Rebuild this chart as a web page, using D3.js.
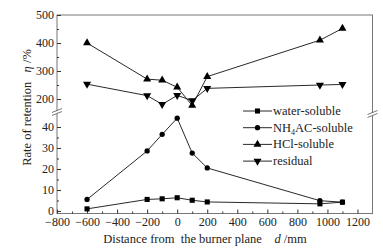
<!DOCTYPE html>
<html>
<head>
<meta charset="utf-8">
<script src="https://cdn.jsdelivr.net/npm/d3@7"></script>
<style>
  body { margin: 0; background: #fff; }
  text { white-space: pre; }
</style>
</head>
<body>
<div id="chart"></div>
<script>
// distance from the burner plane, mm
var distances = [-600, -200, -100, 0, 100, 200, 950, 1100];
var waterSoluble = [1, 5.5, 5.8, 6.3, 5.1, 4.3, 3.4, 4.2];
var nh4acSoluble = [5.5, 28.6, 36.5, 44.2, 27.6, 20.5, 4.9, 4.2];
var hclSoluble = [400, 271, 267, 242, 177, 280, 410, 452];
var residual = [253, 212, 181, 213, 194, 238, 250, 252];

var seriesNames = ['water-soluble', 'NH4AC-soluble', 'HCl-soluble', 'residual'];
var xTicks = [-800, -600, -400, -200, 0, 200, 400, 600, 800, 1000, 1200];
var yTicks = [0, 10, 20, 30, 40, 200, 300, 400, 500];
var yMinorTicks = [5, 15, 25, 35, 250, 350, 450];

var FONT = '"Liberation Serif", "Times New Roman", Times, "DejaVu Serif", serif';
var W = 383, H = 249;
var margin = { left: 57, right: 10.5, top: 15, bottom: 35.5 };

var svg = d3.select('#chart')
    .append('svg')
    .attr('width', W)
    .attr('height', H)
    .style('font-family', FONT);

var xScale = d3.scaleLinear()
    .domain([-800, 1300])
    .range([margin.left, W - margin.right]);

// broken y axis: lower part 0-46, upper part 170-500
var yScale = d3.scaleLinear()
    .domain([-1.2, 46, 170, 500])
    .range([H - margin.bottom, 114.4, 107.4, margin.top]);

var plotBottom = H - margin.bottom;
var fmt = function (d) { return d < 0 ? '\u2212' + Math.abs(d) : '' + d; };

// frame
svg.append('rect')
    .attr('x', margin.left)
    .attr('y', margin.top)
    .attr('width', W - margin.right - margin.left)
    .attr('height', plotBottom - margin.top)
    .style('fill', 'none')
    .style('stroke', '#777')
    .style('stroke-width', 1);

// x axis
svg.append('g')
    .attr('transform', 'translate(0,' + plotBottom + ')')
    .call(d3.axisBottom(xScale).tickValues(xTicks).tickSize(-4).tickPadding(4).tickFormat(fmt));
svg.append('g')
    .attr('transform', 'translate(0,' + plotBottom + ')')
    .call(d3.axisBottom(xScale).tickValues(d3.range(-700, 1300, 200)).tickSize(-2).tickFormat(''));

// y axis
svg.append('g')
    .attr('transform', 'translate(' + margin.left + ',0)')
    .call(d3.axisLeft(yScale).tickValues(yTicks).tickSize(-4).tickPadding(3).tickFormat(fmt));
svg.append('g')
    .attr('transform', 'translate(' + margin.left + ',0)')
    .call(d3.axisLeft(yScale).tickValues(yMinorTicks).tickSize(-2).tickFormat(''));

svg.selectAll('.domain').remove();
svg.selectAll('.tick line').style('stroke', '#333');
svg.selectAll('.tick text')
    .style('font-family', FONT)
    .style('font-size', '12px')
    .style('fill', '#222');

// break marks
function breakMark(x, y) {
    var g = svg.append('g').attr('transform', 'translate(' + x + ',' + y + ')');
    g.append('polygon')
        .attr('points', '-4,1 4,-2.5 4,0.5 -4,4')
        .style('fill', '#fff');
    [0, 3].forEach(function (dy) {
        g.append('line')
            .attr('x1', -5).attr('y1', 1 + dy)
            .attr('x2', 5).attr('y2', -3 + dy)
            .style('stroke', '#555')
            .style('stroke-width', 0.8);
    });
}
breakMark(margin.left, 111.5);
breakMark(W - margin.right, 113.5);

// series
var line = d3.line()
    .x(function (d) { return xScale(d[0]); })
    .y(function (d) { return yScale(d[1]); });

var seriesData = [waterSoluble, nh4acSoluble, hclSoluble, residual];
var symbols = [d3.symbolSquare, d3.symbolCircle, d3.symbolTriangle, d3.symbolTriangle];
var symbolSize = [26, 22, 28, 28];
var rotations = [0, 0, 0, 180];

seriesData.forEach(function (vals, i) {
    var pts = distances.map(function (d, j) { return [d, vals[j]]; });
    svg.append('path')
        .attr('d', line(pts))
        .style('fill', 'none')
        .style('stroke', '#111')
        .style('stroke-width', 0.9);
    svg.append('g')
        .selectAll('path')
        .data(pts)
        .enter()
        .append('path')
        .attr('d', d3.symbol().type(symbols[i]).size(symbolSize[i]))
        .attr('transform', function (d) {
            return 'translate(' + xScale(d[0]) + ',' + yScale(d[1]) + ') rotate(' + rotations[i] + ')';
        })
        .style('fill', '#000');
});

// legend
var legend = svg.append('g').attr('transform', 'translate(243,111)');
seriesNames.forEach(function (name, i) {
    var row = legend.append('g').attr('transform', 'translate(0,' + (i * 16.7) + ')');
    row.append('line')
        .attr('x1', 0).attr('x2', 29)
        .style('stroke', '#111')
        .style('stroke-width', 0.9);
    row.append('path')
        .attr('d', d3.symbol().type(symbols[i]).size(symbolSize[i]))
        .attr('transform', 'translate(14.5,0) rotate(' + rotations[i] + ')')
        .style('fill', '#000');
    var t = row.append('text')
        .attr('x', 30)
        .attr('y', 4)
        .style('font-family', FONT)
        .style('font-size', '12.5px')
        .style('fill', '#222');
    if (name == 'NH4AC-soluble') {
        t.append('tspan').text('NH');
        t.append('tspan').attr('dy', 3).style('font-size', '8px').text('4');
        t.append('tspan').attr('dy', -3).text('AC-soluble');
    } else t.text(name);
});

// axis titles
var xt = svg.append('text')
    .attr('x', 205)
    .attr('y', 243)
    .attr('text-anchor', 'middle')
    .style('font-family', FONT)
    .style('font-size', '12.5px')
    .style('fill', '#222');
xt.append('tspan').text('Distance from  the burner plane    ');
xt.append('tspan').style('font-style', 'italic').text('d');
xt.append('tspan').text(' /mm');

var yt = svg.append('text')
    .attr('transform', 'translate(31,107.5) rotate(-90)')
    .attr('text-anchor', 'middle')
    .style('font-family', FONT)
    .style('font-size', '12.5px')
    .style('fill', '#222');
yt.append('tspan').text('Rate of retention   ');
yt.append('tspan').style('font-style', 'italic').text('η');
yt.append('tspan').text(' /%');
</script>
</body>
</html>
